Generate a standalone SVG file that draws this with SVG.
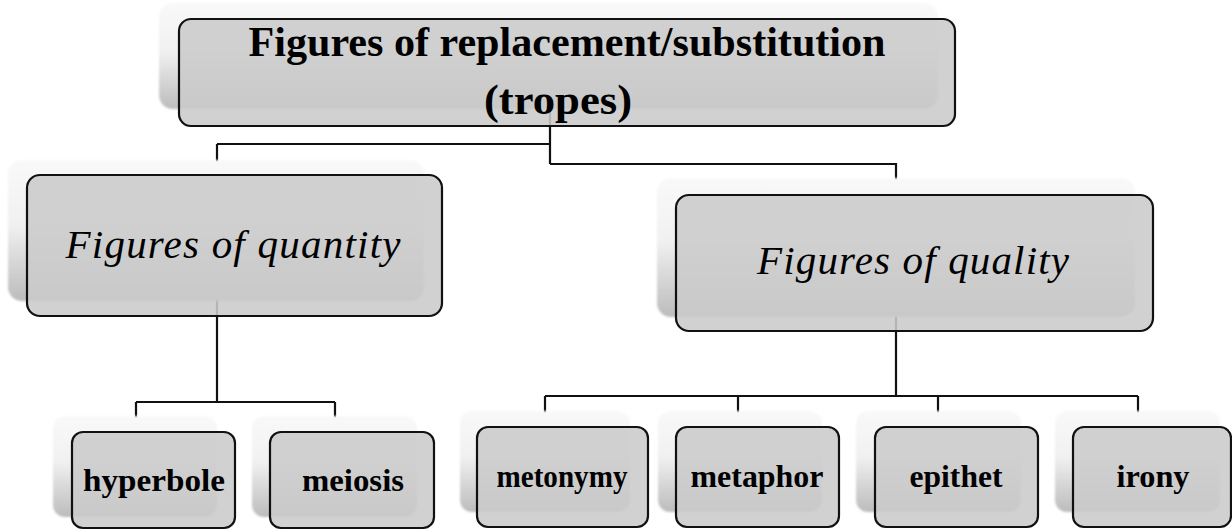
<svg xmlns="http://www.w3.org/2000/svg" width="1232" height="530" viewBox="0 0 1232 530">
  <defs>
    <linearGradient id="shade" x1="0" y1="0" x2="0" y2="1">
      <stop offset="0" stop-color="#f9f9f9"/>
      <stop offset="0.45" stop-color="#f1f1f1"/>
      <stop offset="1" stop-color="#bcbcbc"/>
    </linearGradient>
    <filter id="soft" x="-5%" y="-5%" width="110%" height="110%">
      <feGaussianBlur stdDeviation="1.2"/>
    </filter>
  </defs>
  <style>
    .back { fill: url(#shade); filter: url(#soft); }
    .box { fill: #cbcbcb; fill-opacity: 0.88; stroke: #111; stroke-width: 2.2; }
    .link { fill: none; stroke: #111; stroke-width: 2.2; }
    .title { font-weight: bold; font-size: 42px; fill: #000; }
    .group { font-style: italic; font-size: 41px; fill: #000; }
    .leaf { font-weight: bold; font-size: 31px; fill: #000; }
  </style>
  <rect width="1232" height="530" fill="#ffffff"/>

  <!-- connectors, drawn first so the boxes sit over them -->
  <g id="connectors">
    <path class="link" d="M550 100 V164 M217 144 H550 M217 144 V175 M550 164 H896 V190"/>
    <path class="link" d="M217 290 V402 M136 402 H335 M136 402 V425 M335 402 V425"/>
    <path class="link" d="M896 310 V396 M545 396 H1138 M545 396 V420 M738 396 V420 M938 396 V420 M1138 396 V420"/>
  </g>

  <g font-family="Liberation Serif, DejaVu Serif, serif">
  <g id="node-tropes">
    <rect class="back" x="159" y="3" width="779" height="106" rx="14"/>
    <rect class="box" x="179" y="19" width="776" height="107" rx="12"/>
    <text class="title" x="567" y="56" text-anchor="middle" textLength="637" lengthAdjust="spacingAndGlyphs">Figures of replacement/substitution</text>
    <text class="title" x="558" y="114" text-anchor="middle" textLength="148" lengthAdjust="spacingAndGlyphs">(tropes)</text>
  </g>

  <g id="node-quantity">
    <rect class="back" x="8" y="160" width="416" height="141" rx="14"/>
    <rect class="box" x="27" y="175" width="415" height="141" rx="13"/>
    <text class="group" x="233" y="258" text-anchor="middle" textLength="335" lengthAdjust="spacing">Figures of quantity</text>
  </g>

  <g id="node-quality">
    <rect class="back" x="657" y="178" width="478" height="139" rx="14"/>
    <rect class="box" x="676" y="195" width="477" height="136" rx="13"/>
    <text class="group" x="913" y="274" text-anchor="middle" textLength="312" lengthAdjust="spacing">Figures of quality</text>
  </g>

  <g id="node-hyperbole">
    <rect class="back" x="53" y="416" width="164" height="101" rx="12"/>
    <rect class="box" x="72" y="432" width="163" height="96" rx="11"/>
    <text class="leaf" x="154" y="491" text-anchor="middle" font-size="34" textLength="142" lengthAdjust="spacingAndGlyphs">hyperbole</text>
  </g>

  <g id="node-meiosis">
    <rect class="back" x="252" y="416" width="165" height="101" rx="12"/>
    <rect class="box" x="270" y="432" width="164" height="96" rx="11"/>
    <text class="leaf" x="353" y="491" text-anchor="middle" font-size="34" textLength="102" lengthAdjust="spacingAndGlyphs">meiosis</text>
  </g>

  <g id="node-metonymy">
    <rect class="back" x="460" y="411" width="170" height="101" rx="12"/>
    <rect class="box" x="477" y="427" width="171" height="100" rx="11"/>
    <text class="leaf" x="562" y="487" text-anchor="middle" font-size="30" textLength="131" lengthAdjust="spacingAndGlyphs">metonymy</text>
  </g>

  <g id="node-metaphor">
    <rect class="back" x="658" y="411" width="164" height="101" rx="12"/>
    <rect class="box" x="676" y="427" width="163" height="100" rx="11"/>
    <text class="leaf" x="757" y="487" text-anchor="middle" textLength="133" lengthAdjust="spacingAndGlyphs">metaphor</text>
  </g>

  <g id="node-epithet">
    <rect class="back" x="856" y="411" width="165" height="101" rx="12"/>
    <rect class="box" x="875" y="427" width="163" height="100" rx="11"/>
    <text class="leaf" x="956" y="487" text-anchor="middle" textLength="93" lengthAdjust="spacingAndGlyphs">epithet</text>
  </g>

  <g id="node-irony">
    <rect class="back" x="1055" y="411" width="165" height="101" rx="12"/>
    <rect class="box" x="1073" y="427" width="158" height="100" rx="11"/>
    <text class="leaf" x="1153" y="487" text-anchor="middle" textLength="73" lengthAdjust="spacingAndGlyphs">irony</text>
  </g>
  </g>
</svg>
